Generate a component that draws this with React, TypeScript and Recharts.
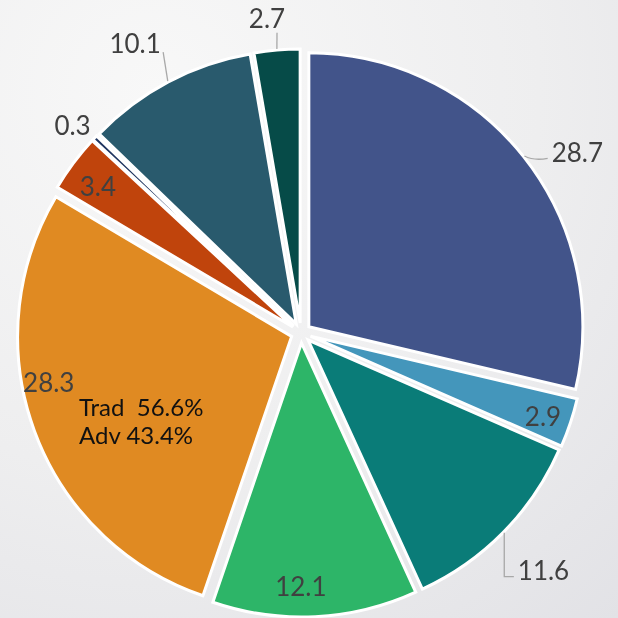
import { PieChart, Pie, Cell, Sector } from 'recharts'

const names = ['A', 'B', 'C', 'D', 'E', 'F', 'G', 'H', 'I']
const values = [28.7, 2.9, 11.6, 12.1, 28.3, 3.4, 0.3, 10.1, 2.7]
const colors = ['#42548a', '#4496bb', '#0a7c78', '#2db568', '#e08a22', '#c0440c', '#1f3560', '#295a6d', '#064b48']

const data = names.map((n, i) => ({ name: n, value: values[i] }))

// label placement: radius from centre, clockwise angle nudge (deg), anchor, leader kind + end offset from text
const labelLayout = [
  { r: 309, da: 2.6, anchor: 'start', leader: 'side', ox: -4, oy: 6 },
  { r: 256, da: 0.6, anchor: 'middle', leader: 'none', ox: 0, oy: 0 },
  { r: 321, da: 3, anchor: 'start', leader: 'elbow', ox: -4, oy: 7 },
  { r: 253, da: 2.9, anchor: 'middle', leader: 'none', ox: 0, oy: 0 },
  { r: 257, da: 9.2, anchor: 'middle', leader: 'none', ox: 0, oy: 0 },
  { r: 251, da: -0.8, anchor: 'middle', leader: 'none', ox: 0, oy: 0 },
  { r: 309, da: -1.1, anchor: 'middle', leader: 'none', ox: 0, oy: 0 },
  { r: 334, da: -1.9, anchor: 'middle', leader: 'line', ox: 28, oy: 9 },
  { r: 317, da: -1.3, anchor: 'middle', leader: 'line', ox: 10, oy: 15 },
]

const EXPLODE = 10
const RAD = Math.PI / 180
const TXT = '#404040'
const LEAD = '#a8a8a8'
const FONT = 'Lato, "Open Sans", sans-serif'

const shift = (mid: number) => ({ x: EXPLODE * Math.cos(-mid * RAD), y: EXPLODE * Math.sin(-mid * RAD) })

const renderSlice = (props: any) => {
  const { cx, cy, midAngle, innerRadius, outerRadius, startAngle, endAngle, fill } = props
  const s = shift(midAngle)
  return (
    <Sector cx={cx + s.x} cy={cy + s.y} innerRadius={innerRadius} outerRadius={outerRadius}
      startAngle={startAngle} endAngle={endAngle} fill={fill} stroke="#fff" strokeWidth={3} />
  )
}

const renderLabel = (props: any) => {
  const { cx, cy, midAngle, outerRadius, index, value } = props
  const cfg = labelLayout[index]
  const a = (midAngle - cfg.da) * RAD
  const tx = cx + cfg.r * Math.cos(a)
  const ty = cy - cfg.r * Math.sin(a)
  const s = shift(midAngle)
  const ex = cx + s.x + (outerRadius + 1) * Math.cos(midAngle * RAD)
  const ey = cy + s.y - (outerRadius + 1) * Math.sin(midAngle * RAD)
  const lx = tx + cfg.ox
  const ly = ty + cfg.oy
  let line = null
  if (cfg.leader === 'side') {
    line = <path d={`M${ex},${ey} Q${ex + 10},${ey + 5} ${lx},${ly}`} stroke={LEAD} fill="none" strokeWidth={1.3} />
  } else if (cfg.leader === 'elbow') {
    line = <path d={`M${ex},${ey} L${ex},${ly} L${lx},${ly}`} stroke={LEAD} fill="none" strokeWidth={1.3} />
  } else if (cfg.leader === 'line') {
    line = <path d={`M${ex},${ey} L${lx},${ly}`} stroke={LEAD} fill="none" strokeWidth={1.3} />
  }
  return (
    <g>
      {line}
      <text x={tx} y={ty} textAnchor={cfg.anchor} dominantBaseline="central"
        fill={TXT} fontSize={26} fontFamily={FONT}>
        {value}
      </text>
    </g>
  )
}

export default function App() {
  return (
    <div style={{
      position: 'fixed', left: 0, top: 0, width: 618, height: 618, overflow: 'hidden',
      background: 'radial-gradient(circle at 25% 15%, #f8f8f8 0%, #eeeeef 55%, #e2e2e6 100%)',
    }}>
      <PieChart width={618} height={618} margin={{ top: 0, right: 0, bottom: 0, left: 0 }}>
        <Pie data={data} dataKey="value" nameKey="name" cx={301} cy={333} outerRadius={274}
          startAngle={90} endAngle={-270} stroke="#fff" strokeWidth={3}
          shape={renderSlice} label={renderLabel} labelLine={false} isAnimationActive={false}>
          {data.map((d, i) => <Cell key={d.name} fill={colors[i]} />)}
        </Pie>
      </PieChart>
      <div style={{ position: 'absolute', left: 79, top: 393, fontFamily: FONT, fontSize: 24, color: '#111', lineHeight: '28px', whiteSpace: 'pre' }}>
        <div>Trad  56.6%</div>
        <div>Adv 43.4%</div>
      </div>
    </div>
  )
}
